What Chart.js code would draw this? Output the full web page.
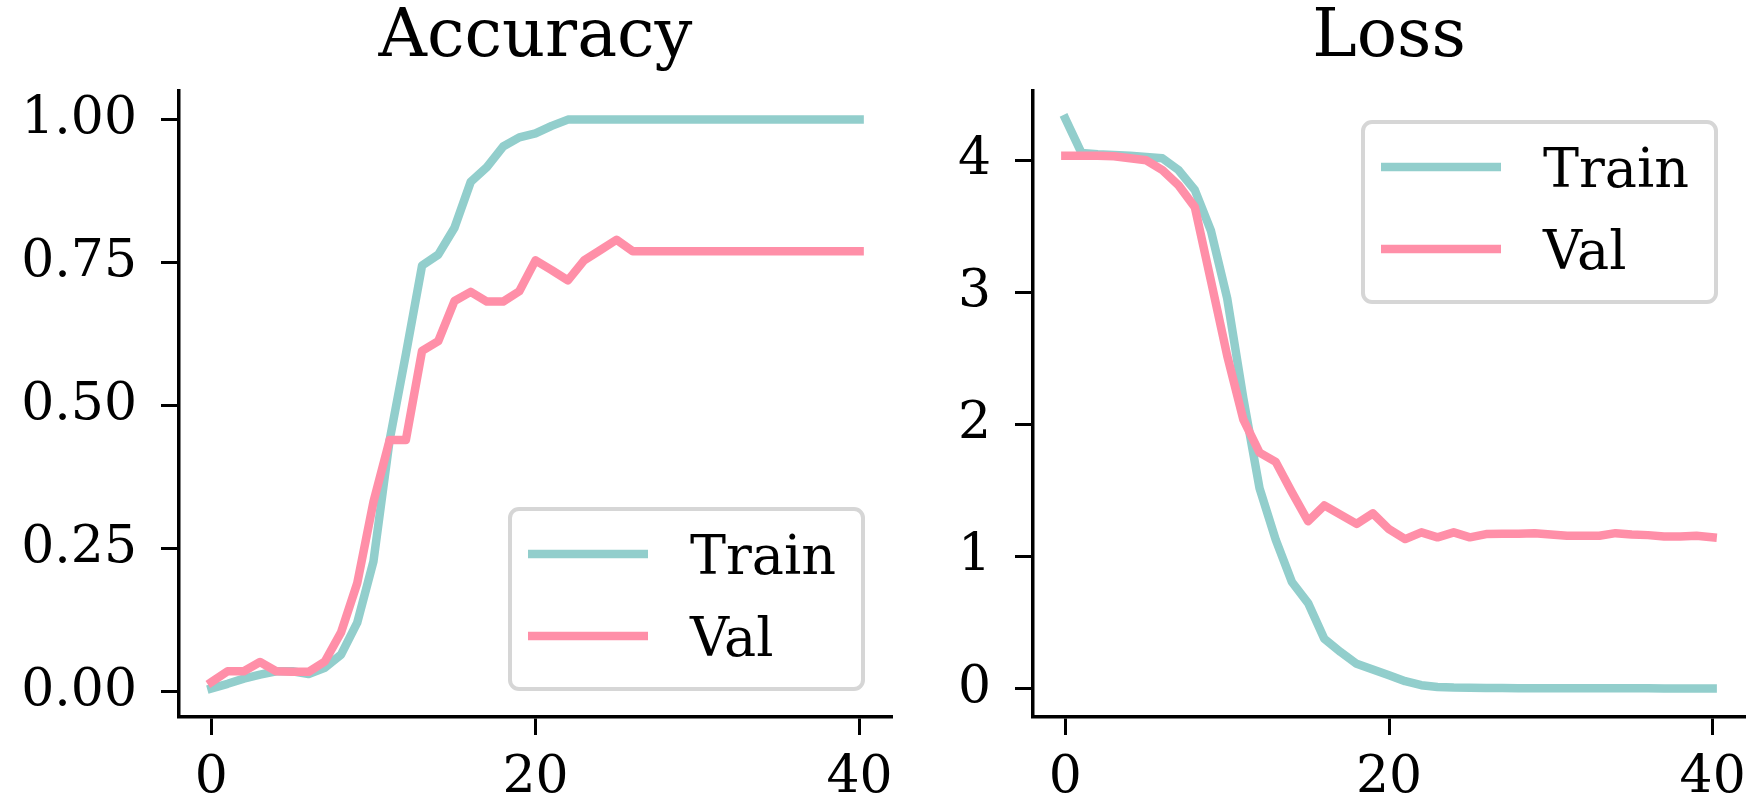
<!DOCTYPE html>
<html>
<head>
<meta charset="utf-8">
<script src="https://cdn.jsdelivr.net/npm/chart.js@4.4.1/dist/chart.umd.min.js"></script>
<style>
  html, body { margin: 0; padding: 0; background: #fff; }
  #wrap { position: relative; width: 1753px; height: 799px; }
  canvas { position: absolute; top: 0; }
</style>
</head>
<body>
<div id="wrap">
  <canvas id="accChart" width="900" height="799" style="left:0"></canvas>
  <canvas id="lossChart" width="853" height="799" style="left:900px"></canvas>
</div>
<script>
// epochs on the x axis
const epochs = [0, 1, 2, 3, 4, 5, 6, 7, 8, 9, 10, 11, 12, 13, 14, 15, 16, 17, 18, 19, 20,
  21, 22, 23, 24, 25, 26, 27, 28, 29, 30, 31, 32, 33, 34, 35, 36, 37, 38, 39, 40];

// accuracy curves
const trainAcc = [0.006, 0.014, 0.023, 0.030, 0.036, 0.036, 0.031, 0.042, 0.065, 0.121, 0.228,
  0.44, 0.59, 0.745, 0.764, 0.811, 0.891, 0.917, 0.953, 0.969, 0.976,
  0.989, 1.0, 1.0, 1.0, 1.0, 1.0, 1.0, 1.0, 1.0, 1.0, 1.0, 1.0, 1.0, 1.0, 1.0, 1.0, 1.0, 1.0, 1.0, 1.0];
const valAcc = [0.017, 0.036, 0.036, 0.052, 0.036, 0.035, 0.035, 0.053, 0.104, 0.19, 0.332,
  0.44, 0.44, 0.596, 0.613, 0.683, 0.699, 0.682, 0.682, 0.70, 0.754,
  0.737, 0.719, 0.754, 0.772, 0.79, 0.77, 0.77, 0.77, 0.77, 0.77, 0.77, 0.77, 0.77, 0.77, 0.77, 0.77, 0.77, 0.77, 0.77, 0.77];

// loss curves
const trainLoss = [4.32, 4.06, 4.05, 4.045, 4.04, 4.03, 4.02, 3.93, 3.78, 3.47, 2.96,
  2.2, 1.52, 1.13, 0.81, 0.65, 0.38, 0.28, 0.19, 0.147, 0.104,
  0.058, 0.028, 0.015, 0.010, 0.008, 0.006, 0.006, 0.005, 0.005, 0.005, 0.005, 0.004, 0.004, 0.004, 0.004, 0.004, 0.003, 0.003, 0.003, 0.003];
const valLoss = [4.04, 4.04, 4.04, 4.035, 4.02, 4.005, 3.93, 3.815, 3.65, 3.09, 2.525,
  2.04, 1.79, 1.72, 1.49, 1.27, 1.39, 1.32, 1.25, 1.33, 1.21,
  1.135, 1.186, 1.148, 1.186, 1.148, 1.173, 1.175, 1.175, 1.18, 1.17, 1.16, 1.16, 1.16, 1.18, 1.17, 1.165, 1.155, 1.155, 1.16, 1.148];

// tick labels
const xTicks = [0, 20, 40];
const accTicks = [0, 0.25, 0.5, 0.75, 1.0];
const lossTicks = [0, 1, 2, 3, 4];

const TEAL = '#92cecc';
const PINK = '#ff8fa8';
const FONT = '"DejaVu Serif", "Liberation Serif", serif';

Chart.defaults.font.family = FONT;
Chart.defaults.color = '#000';

const toPoints = (ys) => epochs.map((x, i) => ({ x: x, y: ys[i] }));

// matplotlib-like legend box inside the plot area
const cornerLegend = {
    id: 'cornerLegend',
    afterDatasetsDraw(chart, args, opts) {
        const { ctx, chartArea } = chart;
        const w = 353, h = 180, r = 9;
        const left = chartArea.right - 29 - w;
        const top = opts.corner === 'lower right' ? chartArea.bottom - 28 - h : chartArea.top + 31;

        ctx.save();
        ctx.beginPath();
        ctx.moveTo(left + r, top);
        ctx.arcTo(left + w, top, left + w, top + h, r);
        ctx.arcTo(left + w, top + h, left, top + h, r);
        ctx.arcTo(left, top + h, left, top, r);
        ctx.arcTo(left, top, left + w, top, r);
        ctx.closePath();
        ctx.fillStyle = 'rgba(255,255,255,0.8)';
        ctx.fill();
        ctx.strokeStyle = '#d6d6d6';
        ctx.lineWidth = 4;
        ctx.stroke();

        chart.data.datasets.forEach((ds, i) => {
            const y = top + 45 + i * 82;
            ctx.strokeStyle = ds.borderColor;
            ctx.lineWidth = 8.5;
            ctx.lineCap = 'butt';
            ctx.beginPath();
            ctx.moveTo(left + 18, y);
            ctx.lineTo(left + 138, y);
            ctx.stroke();
            ctx.fillStyle = '#000';
            ctx.font = '54px ' + FONT;
            ctx.textBaseline = 'alphabetic';
            ctx.textAlign = 'left';
            ctx.fillText(ds.label, left + 180, y + 20);
        });
        ctx.restore();
    }
};

const makeChart = (id, title, train, val, yMin, yMax, yTicks, yFmt, yWidth, corner) => {
    const ctx = document.getElementById(id).getContext('2d');
    const lineStyle = {
        borderWidth: 8.5,
        pointRadius: 0,
        tension: 0,
        fill: false,
        borderCapStyle: 'square',
        borderJoinStyle: 'round'
    };
    return new Chart(ctx, {
        type: 'line',
        data: {
            datasets: [
                { label: 'Train', data: toPoints(train), borderColor: TEAL, backgroundColor: TEAL, order: 1, ...lineStyle },
                { label: 'Val', data: toPoints(val), borderColor: PINK, backgroundColor: PINK, order: 0, ...lineStyle }
            ]
        },
        plugins: [cornerLegend],
        options: {
            responsive: false,
            animation: false,
            devicePixelRatio: 1,
            layout: { padding: { left: 0, right: 8, top: 0, bottom: 0 } },
            plugins: {
                legend: { display: false },
                tooltip: { enabled: false },
                title: {
                    display: true,
                    fullSize: false,
                    text: title,
                    color: '#000',
                    font: { size: 67, weight: 'normal', family: FONT, lineHeight: 1.1 },
                    padding: { top: 2, bottom: 15.3 }
                },
                cornerLegend: { corner: corner }
            },
            scales: {
                x: {
                    type: 'linear',
                    min: -2,
                    max: 42,
                    afterBuildTicks: (scale) => { scale.ticks = xTicks.map(v => ({ value: v })); },
                    afterFit: (scale) => {
                        scale.height = 82;
                        scale.paddingLeft = 0;
                        scale.paddingRight = 0;
                    },
                    border: { display: true, color: '#000', width: 3.5 },
                    grid: { drawOnChartArea: false, drawTicks: true, tickLength: 18, tickWidth: 3, tickColor: '#000' },
                    ticks: { font: { size: 52, family: FONT }, color: '#000', padding: 12, maxRotation: 0, callback: v => String(v) }
                },
                y: {
                    type: 'linear',
                    min: yMin,
                    max: yMax,
                    afterBuildTicks: (scale) => { scale.ticks = yTicks.map(v => ({ value: v })); },
                    afterFit: (scale) => {
                        scale.width = yWidth;
                        scale.paddingTop = 0;
                        scale.paddingBottom = 0;
                    },
                    border: { display: true, color: '#000', width: 3.5 },
                    grid: { drawOnChartArea: false, drawTicks: true, tickLength: 18, tickWidth: 3, tickColor: '#000' },
                    ticks: { font: { size: 52, family: FONT }, color: '#000', padding: 24, callback: yFmt }
                }
            }
        }
    });
};

makeChart('accChart', 'Accuracy', trainAcc, valAcc, -0.044, 1.05, accTicks, v => v.toFixed(2), 179, 'lower right');
makeChart('lossChart', 'Loss', trainLoss, valLoss, -0.213, 4.53, lossTicks, v => String(v), 133, 'upper right');
</script>
</body>
</html>
